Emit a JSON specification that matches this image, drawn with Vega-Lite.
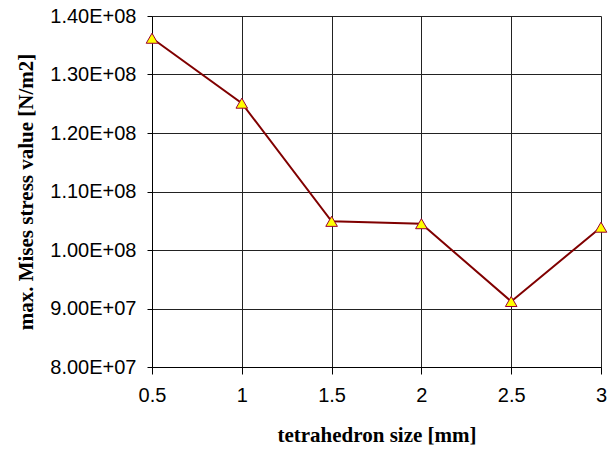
{
  "$schema": "https://vega.github.io/schema/vega-lite/v6.json",
  "width": 449,
  "height": 351,
  "autosize": {"type": "none"},
  "padding": {"left": 152, "top": 16, "right": 14, "bottom": 84},
  "background": "white",
  "config": {"view": {"stroke": null}},
  "data": {"values": [
    {"size": 0.5, "stress": 136200000},
    {"size": 1.0, "stress": 125100000},
    {"size": 1.5, "stress": 104900000},
    {"size": 2.0, "stress": 104500000},
    {"size": 2.5, "stress": 91200000},
    {"size": 3.0, "stress": 103900000}
  ]},
  "encoding": {
    "x": {
      "field": "size", "type": "quantitative",
      "scale": {"domain": [0.5, 3], "nice": false, "zero": false},
      "axis": {
        "values": [0.5, 1, 1.5, 2, 2.5, 3],
        "format": "~g",
        "labelFlush": false,
        "title": "tetrahedron size [mm]",
        "titleFont": "Liberation Serif", "titleFontSize": 21, "titleFontWeight": "bold", "titleColor": "black",
        "titlePadding": 19,
        "labelFont": "Liberation Sans", "labelFontSize": 20, "labelColor": "black",
        "labelPadding": 11, "tickSize": 7, "tickColor": "black",
        "domainColor": "black", "gridColor": "#222", "gridWidth": 1
      }
    },
    "y": {
      "field": "stress", "type": "quantitative",
      "scale": {"domain": [80000000, 140000000], "nice": false, "zero": false},
      "axis": {
        "values": [80000000, 90000000, 100000000, 110000000, 120000000, 130000000, 140000000],
        "labelExpr": "datum.value >= 100000000 ? format(datum.value/100000000, '.2f') + 'E+08' : format(datum.value/10000000, '.2f') + 'E+07'",
        "labelFlush": false,
        "title": "max. Mises stress value [N/m2]",
        "titleFont": "Liberation Serif", "titleFontSize": 21, "titleFontWeight": "bold", "titleColor": "black",
        "titlePadding": 13,
        "labelFont": "Liberation Sans", "labelFontSize": 20, "labelColor": "black",
        "labelPadding": 11, "tickSize": 5, "tickColor": "black",
        "domainColor": "black", "gridColor": "#222", "gridWidth": 1
      }
    }
  },
  "layer": [
    {"mark": {"type": "line", "color": "#800000", "strokeWidth": 2}},
    {"mark": {"type": "point", "shape": "triangle-up", "filled": true, "fill": "#ffff00", "stroke": "#990033", "strokeWidth": 1, "size": 135, "opacity": 1}}
  ]
}
